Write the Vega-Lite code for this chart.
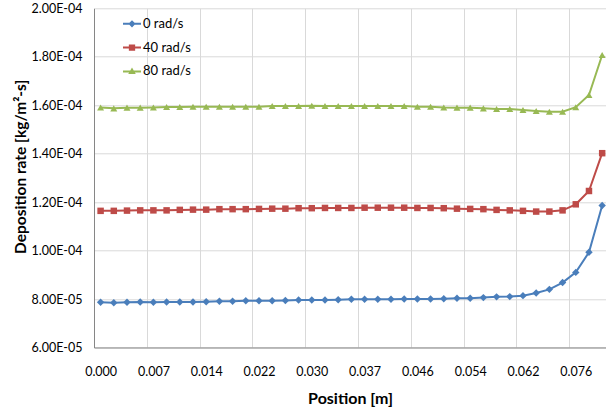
{
  "$schema": "https://vega.github.io/schema/vega-lite/v6.json",
  "autosize": "none",
  "width": 512,
  "height": 339.2,
  "padding": {"left": 94, "top": 8.3, "right": 0, "bottom": 60.5},
  "background": "white",
  "config": {
    "font": "Lato",
    "view": {"stroke": null},
    "axis": {"labelFont": "Lato", "titleFont": "Lato", "labelColor": "#000000", "titleColor": "#000000"}
  },
  "data": {
    "values": [
      {"i":0,"series":"0 rad/s","rate":7.87e-5},{"i":1,"series":"0 rad/s","rate":7.85e-5},{"i":2,"series":"0 rad/s","rate":7.87e-5},{"i":3,"series":"0 rad/s","rate":7.88e-5},{"i":4,"series":"0 rad/s","rate":7.87e-5},{"i":5,"series":"0 rad/s","rate":7.88e-5},{"i":6,"series":"0 rad/s","rate":7.88e-5},{"i":7,"series":"0 rad/s","rate":7.88e-5},{"i":8,"series":"0 rad/s","rate":7.89e-5},{"i":9,"series":"0 rad/s","rate":7.91e-5},{"i":10,"series":"0 rad/s","rate":7.91e-5},{"i":11,"series":"0 rad/s","rate":7.93e-5},{"i":12,"series":"0 rad/s","rate":7.93e-5},{"i":13,"series":"0 rad/s","rate":7.93e-5},{"i":14,"series":"0 rad/s","rate":7.94e-5},{"i":15,"series":"0 rad/s","rate":7.96e-5},{"i":16,"series":"0 rad/s","rate":7.96e-5},{"i":17,"series":"0 rad/s","rate":7.96e-5},{"i":18,"series":"0 rad/s","rate":7.97e-5},{"i":19,"series":"0 rad/s","rate":7.99e-5},{"i":20,"series":"0 rad/s","rate":7.99e-5},{"i":21,"series":"0 rad/s","rate":7.99e-5},{"i":22,"series":"0 rad/s","rate":7.99e-5},{"i":23,"series":"0 rad/s","rate":8.0e-5},{"i":24,"series":"0 rad/s","rate":8.0e-5},{"i":25,"series":"0 rad/s","rate":8.0e-5},{"i":26,"series":"0 rad/s","rate":8.01e-5},{"i":27,"series":"0 rad/s","rate":8.03e-5},{"i":28,"series":"0 rad/s","rate":8.03e-5},{"i":29,"series":"0 rad/s","rate":8.06e-5},{"i":30,"series":"0 rad/s","rate":8.09e-5},{"i":31,"series":"0 rad/s","rate":8.1e-5},{"i":32,"series":"0 rad/s","rate":8.14e-5},{"i":33,"series":"0 rad/s","rate":8.25e-5},{"i":34,"series":"0 rad/s","rate":8.4e-5},{"i":35,"series":"0 rad/s","rate":8.68e-5},{"i":36,"series":"0 rad/s","rate":9.1e-5},{"i":37,"series":"0 rad/s","rate":9.93e-5},{"i":38,"series":"0 rad/s","rate":1.186e-4},
      {"i":0,"series":"40 rad/s","rate":1.164e-4},{"i":1,"series":"40 rad/s","rate":1.164e-4},{"i":2,"series":"40 rad/s","rate":1.165e-4},{"i":3,"series":"40 rad/s","rate":1.166e-4},{"i":4,"series":"40 rad/s","rate":1.166e-4},{"i":5,"series":"40 rad/s","rate":1.166e-4},{"i":6,"series":"40 rad/s","rate":1.168e-4},{"i":7,"series":"40 rad/s","rate":1.169e-4},{"i":8,"series":"40 rad/s","rate":1.169e-4},{"i":9,"series":"40 rad/s","rate":1.171e-4},{"i":10,"series":"40 rad/s","rate":1.171e-4},{"i":11,"series":"40 rad/s","rate":1.171e-4},{"i":12,"series":"40 rad/s","rate":1.172e-4},{"i":13,"series":"40 rad/s","rate":1.173e-4},{"i":14,"series":"40 rad/s","rate":1.173e-4},{"i":15,"series":"40 rad/s","rate":1.175e-4},{"i":16,"series":"40 rad/s","rate":1.175e-4},{"i":17,"series":"40 rad/s","rate":1.176e-4},{"i":18,"series":"40 rad/s","rate":1.176e-4},{"i":19,"series":"40 rad/s","rate":1.176e-4},{"i":20,"series":"40 rad/s","rate":1.177e-4},{"i":21,"series":"40 rad/s","rate":1.177e-4},{"i":22,"series":"40 rad/s","rate":1.177e-4},{"i":23,"series":"40 rad/s","rate":1.177e-4},{"i":24,"series":"40 rad/s","rate":1.176e-4},{"i":25,"series":"40 rad/s","rate":1.176e-4},{"i":26,"series":"40 rad/s","rate":1.175e-4},{"i":27,"series":"40 rad/s","rate":1.173e-4},{"i":28,"series":"40 rad/s","rate":1.172e-4},{"i":29,"series":"40 rad/s","rate":1.171e-4},{"i":30,"series":"40 rad/s","rate":1.168e-4},{"i":31,"series":"40 rad/s","rate":1.166e-4},{"i":32,"series":"40 rad/s","rate":1.164e-4},{"i":33,"series":"40 rad/s","rate":1.161e-4},{"i":34,"series":"40 rad/s","rate":1.161e-4},{"i":35,"series":"40 rad/s","rate":1.166e-4},{"i":36,"series":"40 rad/s","rate":1.191e-4},{"i":37,"series":"40 rad/s","rate":1.246e-4},{"i":38,"series":"40 rad/s","rate":1.402e-4},
      {"i":0,"series":"80 rad/s","rate":1.591e-4},{"i":1,"series":"80 rad/s","rate":1.587e-4},{"i":2,"series":"80 rad/s","rate":1.59e-4},{"i":3,"series":"80 rad/s","rate":1.59e-4},{"i":4,"series":"80 rad/s","rate":1.591e-4},{"i":5,"series":"80 rad/s","rate":1.593e-4},{"i":6,"series":"80 rad/s","rate":1.593e-4},{"i":7,"series":"80 rad/s","rate":1.594e-4},{"i":8,"series":"80 rad/s","rate":1.594e-4},{"i":9,"series":"80 rad/s","rate":1.594e-4},{"i":10,"series":"80 rad/s","rate":1.594e-4},{"i":11,"series":"80 rad/s","rate":1.594e-4},{"i":12,"series":"80 rad/s","rate":1.594e-4},{"i":13,"series":"80 rad/s","rate":1.597e-4},{"i":14,"series":"80 rad/s","rate":1.597e-4},{"i":15,"series":"80 rad/s","rate":1.597e-4},{"i":16,"series":"80 rad/s","rate":1.598e-4},{"i":17,"series":"80 rad/s","rate":1.597e-4},{"i":18,"series":"80 rad/s","rate":1.597e-4},{"i":19,"series":"80 rad/s","rate":1.597e-4},{"i":20,"series":"80 rad/s","rate":1.597e-4},{"i":21,"series":"80 rad/s","rate":1.597e-4},{"i":22,"series":"80 rad/s","rate":1.597e-4},{"i":23,"series":"80 rad/s","rate":1.597e-4},{"i":24,"series":"80 rad/s","rate":1.594e-4},{"i":25,"series":"80 rad/s","rate":1.594e-4},{"i":26,"series":"80 rad/s","rate":1.591e-4},{"i":27,"series":"80 rad/s","rate":1.59e-4},{"i":28,"series":"80 rad/s","rate":1.59e-4},{"i":29,"series":"80 rad/s","rate":1.587e-4},{"i":30,"series":"80 rad/s","rate":1.584e-4},{"i":31,"series":"80 rad/s","rate":1.584e-4},{"i":32,"series":"80 rad/s","rate":1.58e-4},{"i":33,"series":"80 rad/s","rate":1.576e-4},{"i":34,"series":"80 rad/s","rate":1.573e-4},{"i":35,"series":"80 rad/s","rate":1.573e-4},{"i":36,"series":"80 rad/s","rate":1.592e-4},{"i":37,"series":"80 rad/s","rate":1.642e-4},{"i":38,"series":"80 rad/s","rate":1.807e-4}
    ]
  },
  "encoding": {
    "x": {
      "field": "i", "type": "quantitative",
      "scale": {"domain": [-0.5, 38.29], "nice": false, "zero": false},
      "axis": {
        "title": "Position [m]",
        "values": [-0.5, 3.5, 7.5, 11.5, 15.5, 19.5, 23.5, 27.5, 31.5, 35.5],
        "labelExpr": "['0.000','0.007','0.014','0.022','0.030','0.037','0.046','0.054','0.062','0.076'][round((datum.value + 0.5) / 4)]",
        "labelOffset": 6.6,
        "labelFontSize": 12.5,
        "labelPadding": 18,
        "labelFlush": false,
        "labelOverlap": false,
        "ticks": false,
        "grid": true,
        "gridColor": "#D9D9D9",
        "gridWidth": 1,
        "domainColor": "#868686",
        "domainWidth": 1,
        "titleFontSize": 16,
        "titleFontWeight": "bold",
        "titlePadding": 12
      }
    },
    "y": {
      "field": "rate", "type": "quantitative",
      "scale": {"domain": [6e-5, 2e-4], "nice": false, "zero": false},
      "axis": {
        "title": "Deposition rate [kg/m²-s]",
        "values": [6e-5, 8e-5, 1e-4, 1.2e-4, 1.4e-4, 1.6e-4, 1.8e-4, 2e-4],
        "labelExpr": "datum.value >= 9.99e-5 ? format(datum.value * 1e4, '.2f') + 'E-04' : format(datum.value * 1e5, '.2f') + 'E-05'",
        "labelFontSize": 12.5,
        "labelPadding": 12,
        "labelFlush": false,
        "labelOverlap": false,
        "ticks": false,
        "grid": true,
        "gridColor": "#D9D9D9",
        "gridWidth": 1,
        "domainColor": "#868686",
        "domainWidth": 1,
        "titleFontSize": 15.5,
        "titleFontWeight": "bold",
        "titleX": -74,
        "titleY": 158,
        "titleAngle": -90,
        "titleBaseline": "middle",
        "titleAlign": "center"
      }
    }
  },
  "layer": [
    {
      "mark": {"type": "point", "filled": true, "opacity": 1},
      "encoding": {
        "color": {
          "field": "series", "type": "nominal",
          "scale": {"domain": ["0 rad/s", "40 rad/s", "80 rad/s"], "range": ["#4A7EBB", "#BE4B48", "#98B954"]},
          "legend": {
            "title": null,
            "orient": "none",
            "legendX": 29,
            "legendY": 6.5,
            "padding": 0,
            "symbolSize": 324,
            "rowPadding": 7.8,
            "labelFontSize": 13,
            "labelFont": "Lato",
            "labelColor": "#000000",
            "labelOffset": 2,
            "symbolStrokeWidth": 0,
            "symbolType": {"expr": "datum.value == '0 rad/s' ? 'M-1,-0.11H1V0.11H-1Z M0,-0.4L0.4,0L0,0.4L-0.4,0Z' : datum.value == '40 rad/s' ? 'M-1,-0.11H1V0.11H-1Z M-0.35,-0.35H0.35V0.35H-0.35Z' : 'M-1,-0.11H1V0.11H-1Z M0,-0.42L0.42,0.3L-0.42,0.3Z'"}
          }
        },
        "shape": {"field": "series", "type": "nominal", "scale": {"domain": ["80 rad/s", "0 rad/s", "40 rad/s"], "range": ["triangle-up", "diamond", "square"]}, "legend": null},
        "size": {"field": "series", "type": "nominal", "scale": {"domain": ["40 rad/s", "80 rad/s", "0 rad/s"], "range": [42, 55, 55]}, "legend": null}
      }
    },
    {
      "mark": {"type": "line", "strokeWidth": 2},
      "encoding": {
        "color": {
          "field": "series", "type": "nominal",
          "scale": {"domain": ["0 rad/s", "40 rad/s", "80 rad/s"], "range": ["#4A7EBB", "#BE4B48", "#98B954"]}
        }
      }
    }
  ]
}
